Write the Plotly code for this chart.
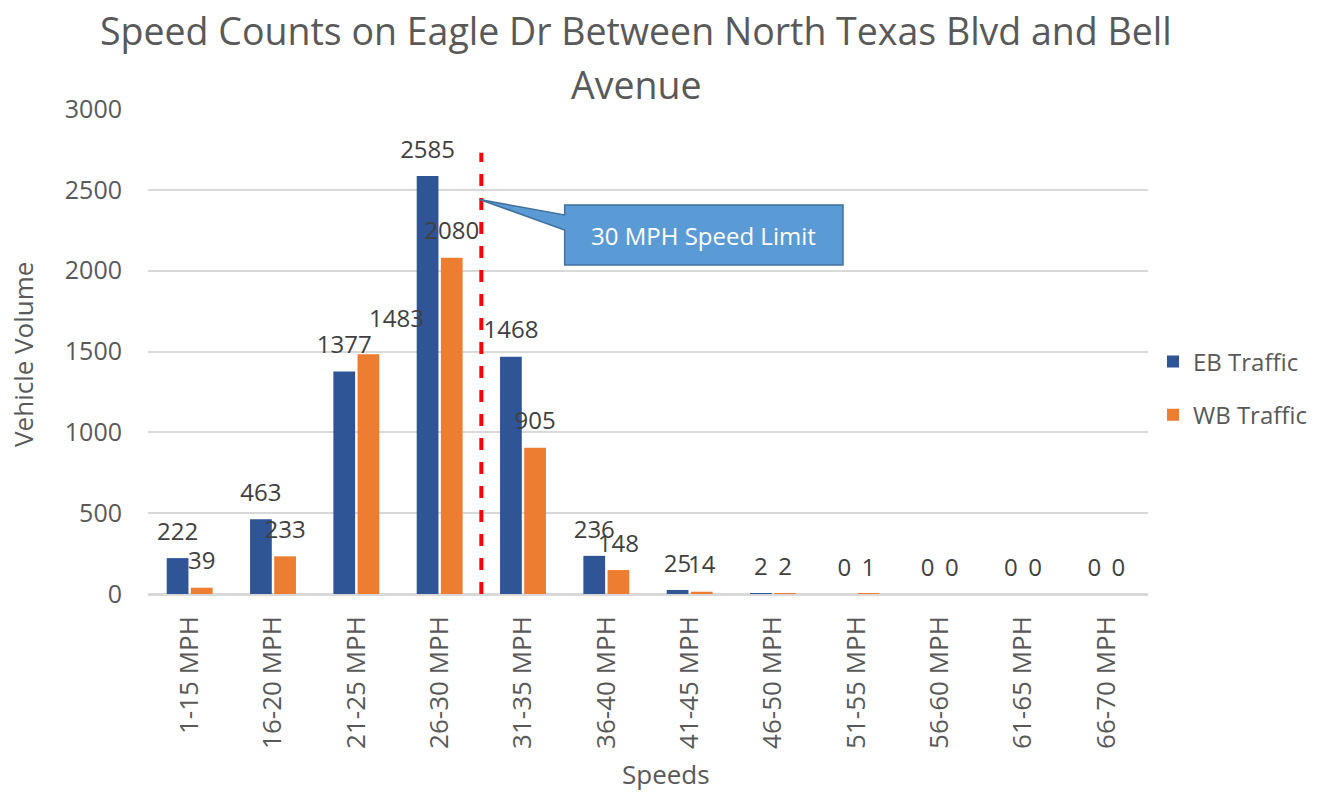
import plotly.graph_objects as go
import numpy as np

categories = ["1-15 MPH", "16-20 MPH", "21-25 MPH", "26-30 MPH", "31-35 MPH", "36-40 MPH",
              "41-45 MPH", "46-50 MPH", "51-55 MPH", "56-60 MPH", "61-65 MPH", "66-70 MPH"]
eb_traffic = [222, 463, 1377, 2585, 1468, 236, 25, 2, 0, 0, 0, 0]
wb_traffic = [39, 233, 1483, 2080, 905, 148, 14, 2, 1, 0, 0, 0]
y_ticks = [0, 500, 1000, 1500, 2000, 2500, 3000]

speed_limit_pos = 3.5
speed_limit_top = 2730
callout_text = "30 MPH Speed Limit"
title_lines = ["Speed Counts on Eagle Dr Between North Texas Blvd and Bell", "Avenue"]

FONT = "Open Sans"
GREY = "#595959"
LABEL = "#404040"

x = np.arange(len(categories))

# the WB label of 21-25 MPH is nudged right in the original (drawn separately)
moved_wb_label = 2

fig = go.Figure()
fig.add_trace(go.Bar(x=x, y=eb_traffic, name="EB Traffic", marker_color="#2F5597",
                     marker_line_width=0, legendgroup="eb", hoverinfo="y"))
fig.add_trace(go.Bar(x=x, y=wb_traffic, name="WB Traffic", marker_color="#ED7D31",
                     marker_line_width=0, legendgroup="wb", hoverinfo="y"))

# data labels (grouped scatter text aligned with bars)
eb_text = [str(v) for v in eb_traffic]
wb_text = [("" if i == moved_wb_label else str(v)) for i, v in enumerate(wb_traffic)]
for vals, txt in ((eb_traffic, eb_text), (wb_traffic, wb_text)):
    fig.add_trace(go.Scatter(
        x=x, y=vals, mode="markers+text", text=txt,
        textposition="top center", textfont=dict(size=24, color=LABEL, family=FONT),
        marker=dict(size=18, opacity=0), showlegend=False,
        hoverinfo="skip", cliponaxis=False))

fig.add_annotation(x=x[moved_wb_label], y=wb_traffic[moved_wb_label], xref="x", yref="y",
                   text=str(wb_traffic[moved_wb_label]), showarrow=False,
                   xanchor="left", yanchor="bottom", xshift=11, yshift=18,
                   font=dict(size=24, color=LABEL, family=FONT))

# speed limit line
fig.add_shape(type="line", x0=speed_limit_pos, x1=speed_limit_pos, y0=0, y1=speed_limit_top,
              xref="x", yref="y", line=dict(color="#FF0000", width=4, dash="dash"))

# callout
bx0, bx1, by0, by1 = 4.5, 7.84, 2035, 2406
tip_x, tip_y = 3.48, 2440
wa, wb = 2345, 2252
path = (f"M {bx0},{by1} L {bx1},{by1} L {bx1},{by0} L {bx0},{by0} "
        f"L {bx0},{wb} L {tip_x},{tip_y} L {bx0},{wa} Z")
fig.add_shape(type="path", path=path, xref="x", yref="y",
              fillcolor="#5B9BD5", line=dict(color="#41719C", width=1.5))
fig.add_annotation(x=(bx0 + bx1) / 2, y=(by0 + by1) / 2, xref="x", yref="y",
                   text=callout_text, showarrow=False,
                   font=dict(size=24, color="white", family=FONT))

# title (two lines)
fig.add_annotation(x=0.488, y=1.161, xref="paper", yref="paper", text=title_lines[0],
                   showarrow=False, xanchor="center", yanchor="middle",
                   font=dict(size=37.5, color=GREY, family=FONT))
fig.add_annotation(x=0.488, y=1.05, xref="paper", yref="paper", text=title_lines[1],
                   showarrow=False, xanchor="center", yanchor="middle",
                   font=dict(size=37.5, color=GREY, family=FONT))

# axis titles
fig.add_annotation(x=0.518, y=-0.372, xref="paper", yref="paper", text="Speeds",
                   showarrow=False, xanchor="center", yanchor="middle",
                   font=dict(size=26, color=GREY, family=FONT))
fig.add_annotation(x=-0.125, y=0.493, xref="paper", yref="paper", text="Vehicle Volume",
                   showarrow=False, xanchor="center", yanchor="middle", textangle=-90,
                   font=dict(size=26, color=GREY, family=FONT))

fig.update_layout(
    width=1324, height=792,
    paper_bgcolor="white", plot_bgcolor="white",
    font=dict(family=FONT, color=GREY),
    margin=dict(l=148, r=176, t=109, b=198, autoexpand=False),
    barmode="group", bargap=0.42, bargroupgap=0.1,
    scattermode="group", scattergap=0.42,
    showlegend=True,
    legend=dict(x=1.005, y=0.424, xanchor="left", yanchor="middle",
                font=dict(size=24, color=GREY, family=FONT),
                traceorder="grouped", tracegroupgap=19, itemwidth=30),
    xaxis=dict(range=[-0.5, 11.5], tickmode="array", tickvals=list(x), ticktext=categories,
               tickangle=-90, tickfont=dict(size=26, color=GREY),
               showline=True, linecolor="#D9D9D9", linewidth=1.5, ticks="",
               showgrid=False, zeroline=False, ticklabelstandoff=10),
    yaxis=dict(range=[0, 3000], tickmode="array", tickvals=y_ticks,
               tickfont=dict(size=25, color=GREY),
               showgrid=True, gridcolor="#D9D9D9", gridwidth=1.5,
               zeroline=True, zerolinecolor="#D9D9D9", zerolinewidth=1.5,
               showline=False, ticks="", ticklabelstandoff=25),
)

fig.write_html("out.html", config={"displayModeBar": False},
               post_script="document.body.style.margin='0';")
